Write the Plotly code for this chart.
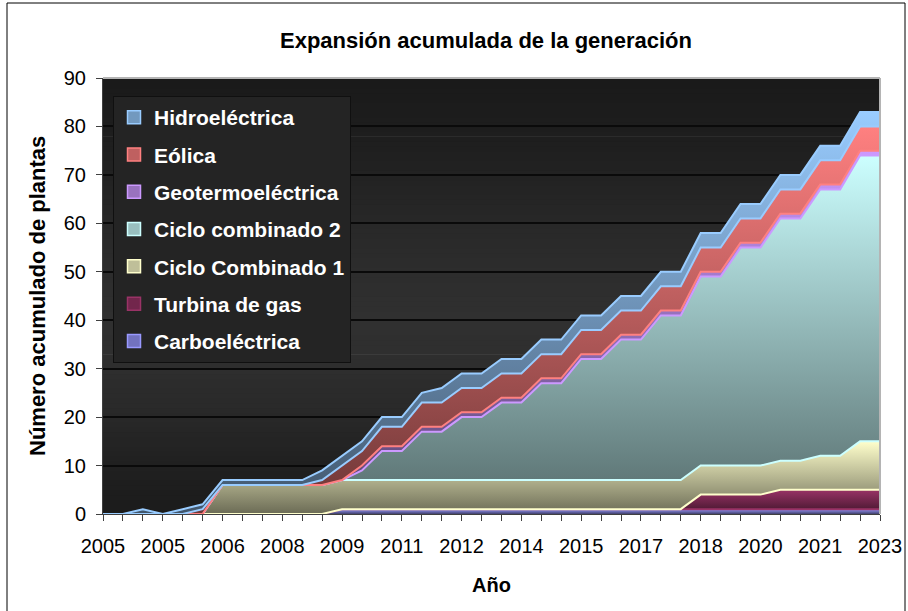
import numpy as np
import plotly.graph_objects as go

# ---------------- data ----------------
periodos = [f"P{i:02d}" for i in range(1, 41)]
etiquetas_anio = ["2005", "2005", "2006", "2008", "2009", "2011", "2012",
                  "2014", "2015", "2017", "2018", "2020", "2021", "2023"]

carboelectrica = [0, 0, 0, 0, 0, 0, 0, 0, 0, 0,
                  0, 0, 1, 1, 1, 1, 1, 1, 1, 1,
                  1, 1, 1, 1, 1, 1, 1, 1, 1, 1,
                  1, 1, 1, 1, 1, 1, 1, 1, 1, 1]
turbina_gas = [0, 0, 0, 0, 0, 0, 0, 0, 0, 0,
               0, 0, 0, 0, 0, 0, 0, 0, 0, 0,
               0, 0, 0, 0, 0, 0, 0, 0, 0, 0,
               3, 3, 3, 3, 4, 4, 4, 4, 4, 4]
ciclo_comb_1 = [0, 0, 0, 0, 0, 0, 6, 6, 6, 6,
                6, 6, 6, 6, 6, 6, 6, 6, 6, 6,
                6, 6, 6, 6, 6, 6, 6, 6, 6, 6,
                6, 6, 6, 6, 6, 6, 7, 7, 10, 10]
ciclo_comb_2 = [0, 0, 0, 0, 0, 0, 0, 0, 0, 0,
                0, 0, 0, 2, 6, 6, 10, 10, 13, 13,
                16, 16, 20, 20, 25, 25, 29, 29, 34, 34,
                39, 39, 45, 45, 50, 50, 55, 55, 59, 59]
geotermoelectrica = [0, 0, 0, 0, 0, 0, 0, 0, 0, 0,
                     0, 0, 0, 1, 1, 1, 1, 1, 1, 1,
                     1, 1, 1, 1, 1, 1, 1, 1, 1, 1,
                     1, 1, 1, 1, 1, 1, 1, 1, 1, 1]
eolica = [0, 0, 0, 0, 0, 1, 0, 0, 0, 0,
          0, 1, 3, 3, 4, 4, 5, 5, 5, 5,
          5, 5, 5, 5, 5, 5, 5, 5, 5, 5,
          5, 5, 5, 5, 5, 5, 5, 5, 5, 5]
hidroelectrica = [0, 0, 1, 0, 1, 1, 1, 1, 1, 1,
                  1, 2, 2, 2, 2, 2, 2, 3, 3, 3,
                  3, 3, 3, 3, 3, 3, 3, 3, 3, 3,
                  3, 3, 3, 3, 3, 3, 3, 3, 3, 3]

nombres = ["Carboeléctrica", "Turbina de gas", "Ciclo Combinado 1",
           "Ciclo combinado 2", "Geotermoeléctrica", "Eólica", "Hidroeléctrica"]
series = [carboelectrica, turbina_gas, ciclo_comb_1, ciclo_comb_2,
          geotermoelectrica, eolica, hidroelectrica]

# ---------------- styles ----------------
colores = ["#9999FF", "#993366", "#FFFFCC", "#CCFFFF", "#CC99FF", "#FF8080", "#99CCFF"]
oscuro = 0.42


def darken(hexc, f):
    h = hexc.lstrip("#")
    r, g, b = (int(h[i:i + 2], 16) for i in (0, 2, 4))
    return f"rgb({int(r * f)},{int(g * f)},{int(b * f)})"


FONT = "Liberation Sans, Arial, sans-serif"
W, H = 908, 611
L, R, T, B = 103, 28, 78, 97
PW, PH = W - L - R, H - T - B

fig = go.Figure()

acumulado = np.cumsum(np.array(series, dtype=float), axis=0)
for k, (nombre, vals) in enumerate(zip(nombres, series)):
    line_col = colores[k + 1] if k + 1 < len(colores) else colores[k]
    top = float(acumulado[k].max())
    fig.add_trace(go.Scatter(
        x=periodos, y=vals, name=nombre, stackgroup="uno",
        mode="lines", line=dict(color=line_col, width=2),
        fillgradient=dict(type="vertical", start=0, stop=max(top, 1),
                          colorscale=[[0, darken(colores[k], oscuro)], [1, colores[k]]]),
        showlegend=False, hoverinfo="x+y+name",
    ))

# legend entries (square swatches), top-to-bottom order as in the reference
for k in reversed(range(len(nombres))):
    fig.add_trace(go.Scatter(
        x=[None], y=[None], name=nombres[k], mode="markers", legendgroup=f"g{k}",
        marker=dict(symbol="square", size=13, color=darken(colores[k], 0.75),
                    line=dict(color=colores[k], width=1.5)),
        showlegend=True,
    ))

# background gradient of plot area
stops = [(0, 0x1b), (10, 0x20), (20, 0x28), (30, 0x2e), (40, 0x30),
         (50, 0x2d), (60, 0x28), (70, 0x22), (80, 0x1d), (90, 0x1a)]
sv = [s[0] for s in stops]
gv = [s[1] for s in stops]
shapes = []
for i in range(90):
    g = int(round(np.interp(i + 0.5, sv, gv)))
    shapes.append(dict(type="rect", xref="paper", yref="y", x0=0, x1=1,
                       y0=i - 0.15 if i > 0 else 0, y1=i + 1,
                       fillcolor=f"rgb({g},{g},{g})", line=dict(width=0), layer="below"))
# plot area border (top & right)
shapes.append(dict(type="line", xref="paper", yref="paper", x0=0, x1=1, y0=1, y1=1,
                   line=dict(color="#b4b4b4", width=2), layer="above"))
shapes.append(dict(type="line", xref="paper", yref="paper", x0=1, x1=1, y0=0, y1=1,
                   line=dict(color="#b4b4b4", width=2), layer="above"))
# outer chart border
shapes.append(dict(type="rect", xref="paper", yref="paper",
                   x0=(7 - L) / PW, x1=(905 - L) / PW,
                   y0=(T + PH - 620) / PH, y1=(T + PH - 3) / PH,
                   line=dict(color="#000000", width=1), fillcolor="rgba(0,0,0,0)", layer="below"))

ticktext = []
for i, p in enumerate(periodos):
    ticktext.append(etiquetas_anio[i // 3] if i % 3 == 0 else "")

fig.update_layout(
    template="none",
    width=W, height=H,
    margin=dict(l=L, r=R, t=T, b=B, autoexpand=False),
    paper_bgcolor="white",
    plot_bgcolor="rgba(0,0,0,0)",
    font=dict(family=FONT, color="black"),
    title=dict(text="<b>Expansión acumulada de la generación</b>",
               x=486 / W, xanchor="center", xref="container",
               y=1 - 40 / H, yanchor="middle", yref="container",
               font=dict(size=22, family=FONT, color="black")),
    xaxis=dict(type="category", categoryorder="array", categoryarray=periodos,
               range=[0, len(periodos) - 1], automargin=False,
               tickmode="array", tickvals=periodos, ticktext=ticktext,
               ticks="outside", ticklen=6, tickcolor="#404040", tickwidth=1,
               showline=True, linecolor="#404040", linewidth=1,
               showgrid=False, zeroline=False,
               tickfont=dict(size=20, family=FONT, color="black"),
               ticklabelstandoff=8),
    yaxis=dict(range=[0, 90], dtick=10, tick0=0, automargin=False,
               ticks="outside", ticklen=6, tickcolor="#404040", tickwidth=1,
               showline=True, linecolor="#404040", linewidth=1,
               showgrid=True, gridcolor="#0a0a0a", gridwidth=1.5,
               zeroline=False,
               tickfont=dict(size=20, family=FONT, color="black"),
               ticklabelstandoff=6),
    legend=dict(x=(113 - L) / PW, xanchor="left", y=(T + PH - 96) / PH, yanchor="top",
                bgcolor="#242424", bordercolor="#101010", borderwidth=1,
                font=dict(size=21, family=FONT, color="white", weight="bold"),
                traceorder="grouped", tracegroupgap=7, itemwidth=30),
    shapes=shapes,
    annotations=[
        dict(text="<b>Número acumulado de plantas</b>", textangle=-90,
             xref="paper", yref="paper", x=(37 - L) / PW, y=0.5,
             xanchor="center", yanchor="middle", showarrow=False,
             font=dict(size=22, family=FONT, color="black")),
        dict(text="<b>Año</b>", xref="paper", yref="paper",
             x=(491 - L) / PW, y=(T + PH - 585) / PH,
             xanchor="center", yanchor="middle", showarrow=False,
             font=dict(size=20, family=FONT, color="black")),
    ],
)

fig.write_html("out.html", config={"displayModeBar": False},
               post_script="document.body.style.margin='0px';")
